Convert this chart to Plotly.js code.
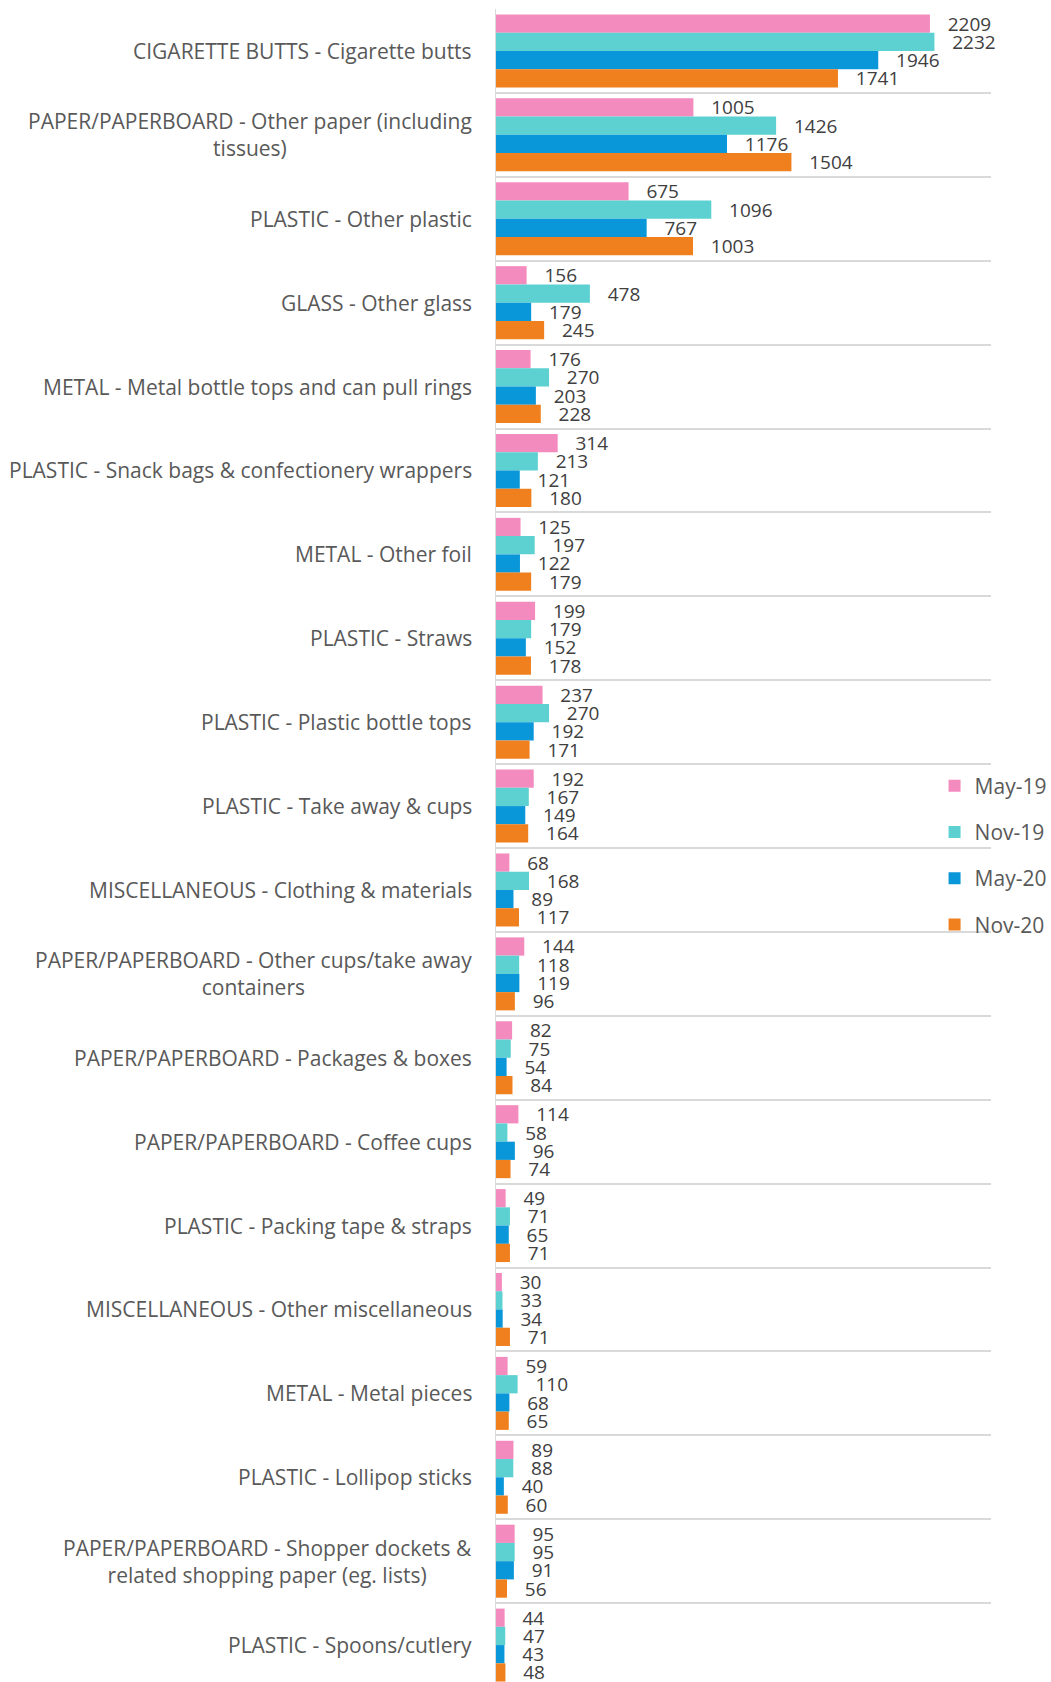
<!DOCTYPE html>
<html>
<head>
<meta charset="utf-8">
<script src="https://cdn.plot.ly/plotly-3.0.1.min.js"></script>
<style>html,body{margin:0;padding:0;background:#fff;}#chart{width:1051px;height:1682px;}</style>
</head>
<body>
<div id="chart"></div>
<script>
const categories = [
  "CIGARETTE BUTTS - Cigarette butts",
  "PAPER/PAPERBOARD - Other paper (including<br>tissues)",
  "PLASTIC - Other plastic",
  "GLASS - Other glass",
  "METAL - Metal bottle tops and can pull rings",
  "PLASTIC - Snack bags & confectionery wrappers",
  "METAL - Other foil",
  "PLASTIC - Straws",
  "PLASTIC - Plastic bottle tops",
  "PLASTIC - Take away & cups",
  "MISCELLANEOUS - Clothing & materials",
  "PAPER/PAPERBOARD - Other cups/take away<br>containers",
  "PAPER/PAPERBOARD - Packages & boxes",
  "PAPER/PAPERBOARD - Coffee cups",
  "PLASTIC - Packing tape & straps",
  "MISCELLANEOUS - Other miscellaneous",
  "METAL - Metal pieces",
  "PLASTIC - Lollipop sticks",
  "PAPER/PAPERBOARD - Shopper dockets &<br>related shopping paper (eg. lists)",
  "PLASTIC - Spoons/cutlery"
];
const seriesNames = ["May-19", "Nov-19", "May-20", "Nov-20"];
const may19 = [2209, 1005, 675, 156, 176, 314, 125, 199, 237, 192, 68, 144, 82, 114, 49, 30, 59, 89, 95, 44];
const nov19 = [2232, 1426, 1096, 478, 270, 213, 197, 179, 270, 167, 168, 118, 75, 58, 71, 33, 110, 88, 95, 47];
const may20 = [1946, 1176, 767, 179, 203, 121, 122, 152, 192, 149, 89, 119, 54, 96, 65, 34, 68, 40, 91, 43];
const nov20 = [1741, 1504, 1003, 245, 228, 180, 179, 178, 171, 164, 117, 96, 84, 74, 71, 71, 65, 60, 56, 48];
const seriesValues = [may19, nov19, may20, nov20];
const colors = ["#F48BBE", "#5DD0D1", "#0A97D9", "#F07F1E"];

const FONT = "Open Sans, sans-serif";
const NB = "\u00a0\u00a0\u00a0";

const traces = seriesValues.map((vals, k) => ({
  type: "bar",
  orientation: "h",
  name: seriesNames[k],
  legendgroup: seriesNames[k],
  y: categories,
  x: vals,
  marker: {color: colors[k], line: {width: 0}},
  texttemplate: NB + "%{x}",
  textposition: "outside",
  constraintext: "none",
  cliponaxis: false,
  textfont: {family: FONT, size: 19, color: "#404040"},
  hoverinfo: "x+name"
}));

const annotations = categories.map((c, i) => ({
  xref: "paper", yref: "y",
  x: 0, y: i,
  xanchor: "right", yanchor: "middle",
  xshift: -22,
  text: c,
  align: "center",
  showarrow: false,
  font: {family: FONT, size: 21, color: "#595959"}
}));

const layout = {
  width: 1051, height: 1682,
  margin: {l: 496, r: 60, t: 9, b: 0, pad: 0, autoexpand: false},
  paper_bgcolor: "#ffffff",
  plot_bgcolor: "#ffffff",
  barmode: "group",
  bargap: 0.13,
  bargroupgap: 0,
  showlegend: true,
  legend: {
    x: 0.886, xanchor: "left",
    y: 0.494, yanchor: "middle",
    traceorder: "grouped",
    tracegroupgap: 16,
    font: {family: FONT, size: 21, color: "#595959"},
    bgcolor: "rgba(0,0,0,0)"
  },
  xaxis: {
    range: [0, 2520],
    showgrid: false, zeroline: false, showticklabels: false, showline: false, ticks: ""
  },
  yaxis: {
    type: "category",
    range: [19.44, -0.5],
    tickson: "boundaries",
    showgrid: true, gridcolor: "#d9d9d9", gridwidth: 2,
    showline: true, linecolor: "#d9d9d9", linewidth: 1,
    showticklabels: false, ticks: "", zeroline: false
  },
  annotations: annotations,
  font: {family: FONT, color: "#595959"}
};

Plotly.newPlot("chart", traces, layout, {displayModeBar: false, staticPlot: true});
</script>
</body>
</html>
